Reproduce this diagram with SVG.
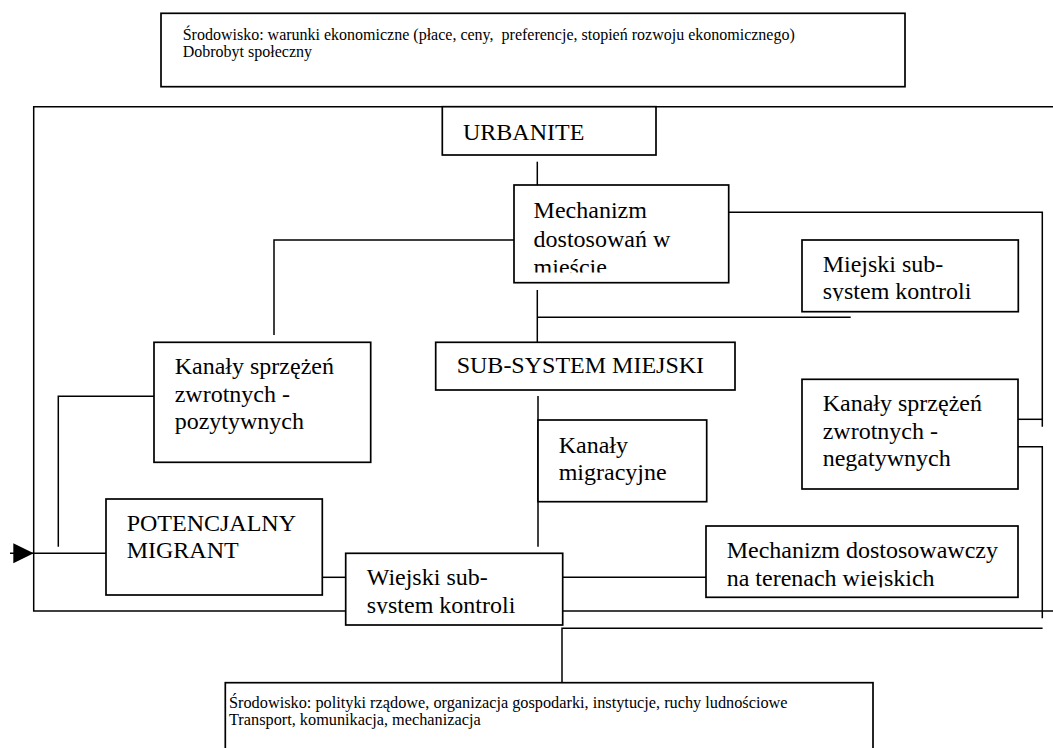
<svg xmlns="http://www.w3.org/2000/svg" width="1053" height="748" viewBox="0 0 1053 748">
<style>
.box{fill:#fff;stroke:#000;stroke-width:1.7}
.ln{fill:none;stroke:#000;stroke-width:1.5}
.t{font-family:"Liberation Serif","Times New Roman",serif;font-size:24px;fill:#000}
.s{font-family:"Liberation Serif","Times New Roman",serif;font-size:16px;fill:#000;white-space:pre}
</style>
<defs>
<clipPath id="cMech"><rect x="514" y="185" width="215" height="87.5"/></clipPath>
<clipPath id="cMiej"><rect x="802" y="240" width="216" height="61"/></clipPath>
<clipPath id="cWiej"><rect x="346" y="553" width="217" height="61"/></clipPath>
<clipPath id="cMdos"><rect x="706" y="526" width="312" height="61.5"/></clipPath>
</defs>
<rect width="1053" height="748" fill="#fff"/>
<g id="connectors">
<path class="ln" d="M1053,106.7 H33.7 V611 H345.7"/>
<path class="ln" d="M562.7,611 H1053"/>
<path class="ln" d="M537.3,161.7 V185"/>
<path class="ln" d="M514,240 H274 V335"/>
<path class="ln" d="M537.3,290 V342.3"/>
<path class="ln" d="M537.3,317.3 H850.7"/>
<path class="ln" d="M728.7,212.3 H1042.3 V426.7"/>
<path class="ln" d="M1018,419.3 H1042.3"/>
<path class="ln" d="M1018,446.7 H1042.3 V618.3"/>
<path class="ln" d="M538,396 V546.7"/>
<path class="ln" d="M154,396.3 H58.3 V546.7"/>
<path class="ln" d="M10,553.3 H106"/>
<polygon points="13.3,543.3 33.7,553.3 13.3,563.3" fill="#000"/>
<path class="ln" d="M322.3,577.3 H345.7"/>
<path class="ln" d="M562.7,577.3 H706"/>
<path class="ln" d="M562,690.7 V628.3 H1042.6"/>
</g>
<g id="env-top">
<rect class="box" x="161" y="13.3" width="744" height="73.4"/>
<text class="s" x="182.7" y="39.5" xml:space="preserve">Środowisko: warunki ekonomiczne (płace, ceny,  preferencje, stopień rozwoju ekonomicznego)</text>
<text class="s" x="182.7" y="57">Dobrobyt społeczny</text>
</g>
<g id="urbanite">
<rect class="box" x="442.3" y="106.7" width="213.7" height="48.3"/>
<text class="t" x="463" y="140">URBANITE</text>
</g>
<g id="mechanizm-miasto">
<rect class="box" x="514" y="185" width="214.7" height="97.7"/>
<g clip-path="url(#cMech)">
<text class="t" x="533.6" y="218.3">Mechanizm</text>
<text class="t" x="533.6" y="246.5">dostosowań w</text>
<text class="t" x="533.6" y="274.7">mieście</text>
</g>
</g>
<g id="miejski-kontrola">
<rect class="box" x="802" y="240" width="216.3" height="71.7"/>
<g clip-path="url(#cMiej)">
<text class="t" x="822.7" y="271.5">Miejski sub-</text>
<text class="t" x="822.7" y="299">system kontroli</text>
</g>
</g>
<g id="kanaly-pozytywne">
<rect class="box" x="154" y="342.3" width="216.7" height="120"/>
<text class="t" x="174.7" y="374">Kanały sprzężeń</text>
<text class="t" x="174.7" y="401.7">zwrotnych -</text>
<text class="t" x="174.7" y="429.3">pozytywnych</text>
</g>
<g id="sub-system-miejski">
<rect class="box" x="435.7" y="342.3" width="299.3" height="47.7"/>
<text class="t" x="456.7" y="373.3">SUB-SYSTEM MIEJSKI</text>
</g>
<g id="kanaly-negatywne">
<rect class="box" x="802" y="379.3" width="216" height="109.7"/>
<text class="t" x="822.7" y="411">Kanały sprzężeń</text>
<text class="t" x="822.7" y="438.5">zwrotnych -</text>
<text class="t" x="822.7" y="466">negatywnych</text>
</g>
<g id="kanaly-migracyjne">
<rect class="box" x="538" y="420" width="168.7" height="81.7"/>
<text class="t" x="558.7" y="452.7">Kanały</text>
<text class="t" x="558.7" y="480">migracyjne</text>
</g>
<g id="potencjalny-migrant">
<rect class="box" x="106" y="499" width="216.3" height="96"/>
<text class="t" x="126.7" y="530.7">POTENCJALNY</text>
<text class="t" x="126.7" y="558.3">MIGRANT</text>
</g>
<g id="wiejski-kontrola">
<rect class="box" x="345.7" y="553.3" width="217" height="71.7"/>
<g clip-path="url(#cWiej)">
<text class="t" x="366.7" y="585">Wiejski sub-</text>
<text class="t" x="366.7" y="612.7">system kontroli</text>
</g>
</g>
<g id="mechanizm-wies">
<rect class="box" x="706" y="526" width="312" height="71.3"/>
<g clip-path="url(#cMdos)">
<text class="t" x="726.7" y="558.3">Mechanizm dostosowawczy</text>
<text class="t" x="726.7" y="585.5">na terenach wiejskich</text>
</g>
</g>
<g id="env-bottom">
<rect class="box" x="225.3" y="682.7" width="647.7" height="80"/>
<text class="s" x="229" y="708" style="font-size:16.3px">Środowisko: polityki rządowe, organizacja gospodarki, instytucje, ruchy ludnościowe</text>
<text class="s" x="229" y="725" style="font-size:16.3px">Transport, komunikacja, mechanizacja</text>
</g>
</svg>
